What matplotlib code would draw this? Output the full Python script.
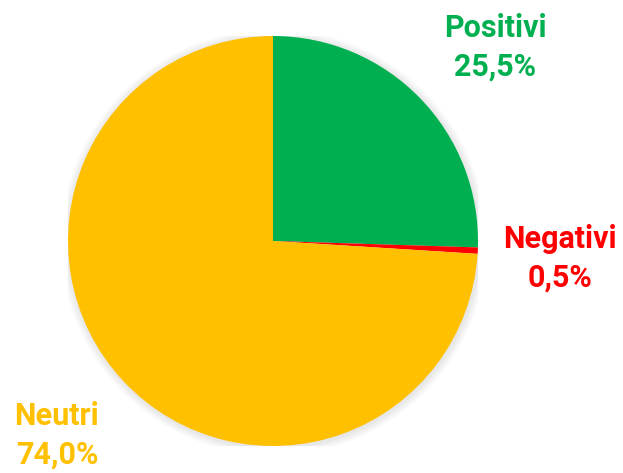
import matplotlib
matplotlib.use("Agg")
import matplotlib.pyplot as plt
from matplotlib.patches import Circle

categories = ["Positivi", "Negativi", "Neutri"]
values = [25.5, 0.5, 74.0]
colors = ["#00B050", "#FF0000", "#FFC000"]
# label block centres in pixels (x, y from top)
label_pos = [(495, 47), (560, 258), (57, 435)]

W, H = 623, 473
fig = plt.figure(figsize=(W / 100, H / 100), dpi=100)
cx, cy, r = 273, 241, 205
ax = fig.add_axes([(cx - r) / W, (H - cy - r) / H, 2 * r / W, 2 * r / H])

# faint soft shadow
for i in range(8):
    ax.add_patch(Circle((0.004, -0.006), 1.0 + 0.005 * (i + 1), color="#808080",
                        alpha=0.025, linewidth=0, zorder=0))

ax.pie(values, colors=colors, startangle=90, counterclock=False,
       radius=1.0, wedgeprops=dict(linewidth=0, zorder=2))
ax.set_xlim(-1, 1)
ax.set_ylim(-1, 1)
ax.set_aspect("equal")
ax.axis("off")

for cat, val, col, (px, py) in zip(categories, values, colors, label_pos):
    txt = f"{cat}\n{val:.1f}%".replace(".", ",")
    fig.text(px / W, 1 - py / H, txt, ha="center", va="center",
             color=col, fontsize=22, fontweight="bold", family="Roboto",
             linespacing=1.35)

fig.savefig("out.png", dpi=100, facecolor="white")
